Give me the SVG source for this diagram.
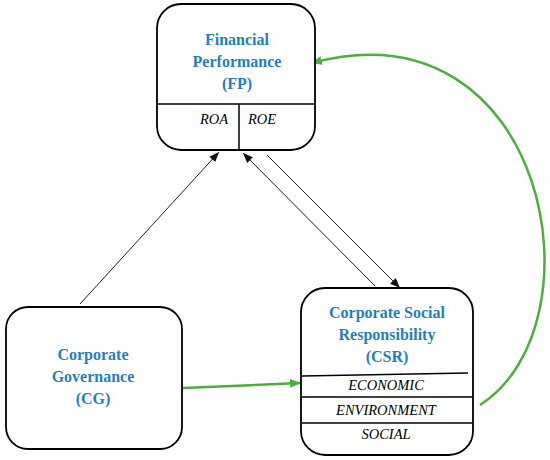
<svg xmlns="http://www.w3.org/2000/svg" width="550" height="460" viewBox="0 0 550 460">
<style>
.box{fill:#fff;stroke:#000;stroke-width:1.8}
.div{stroke:#000;stroke-width:1.5}
.title{font-weight:bold;font-size:16px;fill:#1f7fc4;text-anchor:middle}
.sub{font-style:italic;font-size:14.5px;fill:#000;text-anchor:middle}
.blk{stroke:#222;stroke-width:1;fill:none}
.grn{stroke:#4caf3c;stroke-width:2.5;fill:none}
</style>
<defs>
<marker id="ab" viewBox="0 0 10 10" refX="10" refY="5" markerWidth="10" markerHeight="10" markerUnits="userSpaceOnUse" orient="auto"><path d="M0,1 L10,5 L0,9 Z" fill="#111"/></marker>
<marker id="ag" viewBox="0 0 10 10" refX="9" refY="5" markerWidth="11" markerHeight="11" markerUnits="userSpaceOnUse" orient="auto"><path d="M0,1 L10,5 L0,9 Z" fill="#4caf3c"/></marker>
</defs>
<g id="connectors">
<line class="blk" x1="80" y1="304" x2="219" y2="152" marker-end="url(#ab)"/>
<line class="blk" x1="375" y1="286" x2="243" y2="153" marker-end="url(#ab)"/>
<line class="blk" x1="267" y1="155" x2="400" y2="288" marker-end="url(#ab)"/>
<line class="grn" x1="183" y1="388" x2="300" y2="383" marker-end="url(#ag)"/>
<path class="grn" d="M480,405 C605,325 548,0 312,63" marker-end="url(#ag)"/>
</g>
<g id="fp" font-family="'Liberation Serif', serif">
<rect class="box" x="157" y="4" width="158" height="146" rx="24"/>
<line class="div" x1="158" y1="104" x2="314" y2="104"/>
<line class="div" x1="239" y1="104" x2="239" y2="150"/>
<text class="title" x="237" y="45">Financial</text>
<text class="title" x="237" y="67">Performance</text>
<text class="title" x="237" y="89">(FP)</text>
<text class="sub" x="214" y="124">ROA</text>
<text class="sub" x="262" y="124">ROE</text>
</g>
<g id="cg" font-family="'Liberation Serif', serif">
<rect class="box" x="6" y="307" width="176" height="142" rx="22"/>
<text class="title" x="93" y="360">Corporate</text>
<text class="title" x="93" y="382">Governance</text>
<text class="title" x="93" y="404">(CG)</text>
</g>
<g id="csr" font-family="'Liberation Serif', serif">
<rect class="box" x="301" y="288" width="172" height="167" rx="24"/>
<line class="div" x1="302" y1="376" x2="468" y2="373"/>
<line class="div" x1="302" y1="397" x2="472" y2="397"/>
<line class="div" x1="302" y1="423" x2="472" y2="423"/>
<text class="title" x="387" y="318">Corporate Social</text>
<text class="title" x="387" y="340">Responsibility</text>
<text class="title" x="387" y="362">(CSR)</text>
<text class="sub" x="386" y="390">ECONOMIC</text>
<text class="sub" x="386" y="415">ENVIRONMENT</text>
<text class="sub" x="386" y="439">SOCIAL</text>
</g>
</svg>
